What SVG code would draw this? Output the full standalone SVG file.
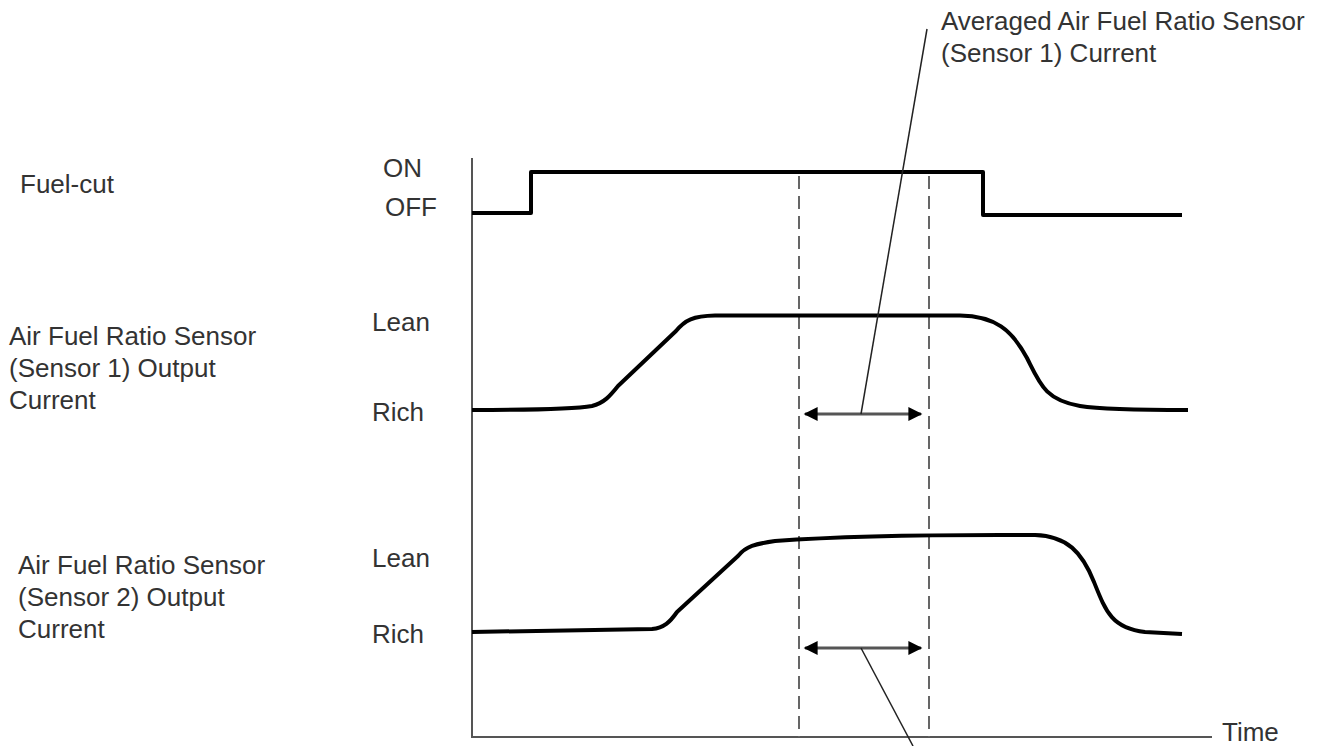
<svg xmlns="http://www.w3.org/2000/svg" width="1321" height="746" viewBox="0 0 1321 746">
<defs>
<style>
.t{font-family:"Liberation Sans",Arial,sans-serif;font-size:26px;fill:#333}
.sig{fill:none;stroke:#000;stroke-width:4;stroke-linejoin:round}
.axis{fill:none;stroke:#555;stroke-width:2}
.dash{fill:none;stroke:#666;stroke-width:2;stroke-dasharray:13,7}
.lead{fill:none;stroke:#222;stroke-width:1.5}
.span{fill:none;stroke:#555;stroke-width:3}
</style>
<marker id="ah" viewBox="0 0 10 10" refX="9" refY="5" markerWidth="17" markerHeight="14" markerUnits="userSpaceOnUse" orient="auto-start-reverse">
<path d="M0,0 L10,5 L0,10 z" fill="#000"/>
</marker>
</defs>
<rect width="1321" height="746" fill="#fff"/>
<g id="axes">
<path class="axis" d="M472,158 L472,737 L1212,737"/>
<text class="t" x="1222" y="741">Time</text>
</g>
<g id="guides">
<path class="dash" d="M799,176 L799,737"/>
<path class="dash" d="M929,176 L929,737"/>
</g>
<g id="fuel-cut">
<text class="t" x="20" y="193">Fuel-cut</text>
<text class="t" x="383" y="177">ON</text>
<text class="t" x="385" y="216">OFF</text>
<path class="sig" d="M472,213 L531,213 L531,172 L983,172 L983,215 L1182,215"/>
</g>
<g id="sensor1">
<text class="t" x="9" y="345">Air Fuel Ratio Sensor</text>
<text class="t" x="9" y="377">(Sensor 1) Output</text>
<text class="t" x="9" y="409">Current</text>
<text class="t" x="372" y="331">Lean</text>
<text class="t" x="372" y="421">Rich</text>
<path class="sig" d="M472,410 C530,410 575,409 592,406 C604,403 610,396 618,386 L676,331 C685,320 693,316 715,315.5 L960,315.5 C995,316 1012,330 1027,358 C1040,384 1045,400 1080,406 C1105,410 1150,410 1188,410"/>
</g>
<g id="sensor2">
<text class="t" x="18" y="574">Air Fuel Ratio Sensor</text>
<text class="t" x="18" y="606">(Sensor 2) Output</text>
<text class="t" x="18" y="638">Current</text>
<text class="t" x="372" y="567">Lean</text>
<text class="t" x="372" y="643">Rich</text>
<path class="sig" d="M472,632 L652,629 C664,628 670,622 677,612 L738,556 C746,546 755,544 775,541 C830,537 900,535 1000,535 L1035,535 C1067,536 1082,552 1094,582 C1106,612 1112,628 1145,632 L1182,634"/>
</g>
<g id="annotation">
<text class="t" x="941" y="30">Averaged Air Fuel Ratio Sensor</text>
<text class="t" x="941" y="62">(Sensor 1) Current</text>
</g>
<g id="connectors">
<path class="span" d="M805,414 L921,414" marker-start="url(#ah)" marker-end="url(#ah)"/>
<path class="span" d="M805,648 L921,648" marker-start="url(#ah)" marker-end="url(#ah)"/>
<path class="lead" d="M861,414 L927,29"/>
<path class="lead" d="M861,648 L913,746"/>
</g>
</svg>
